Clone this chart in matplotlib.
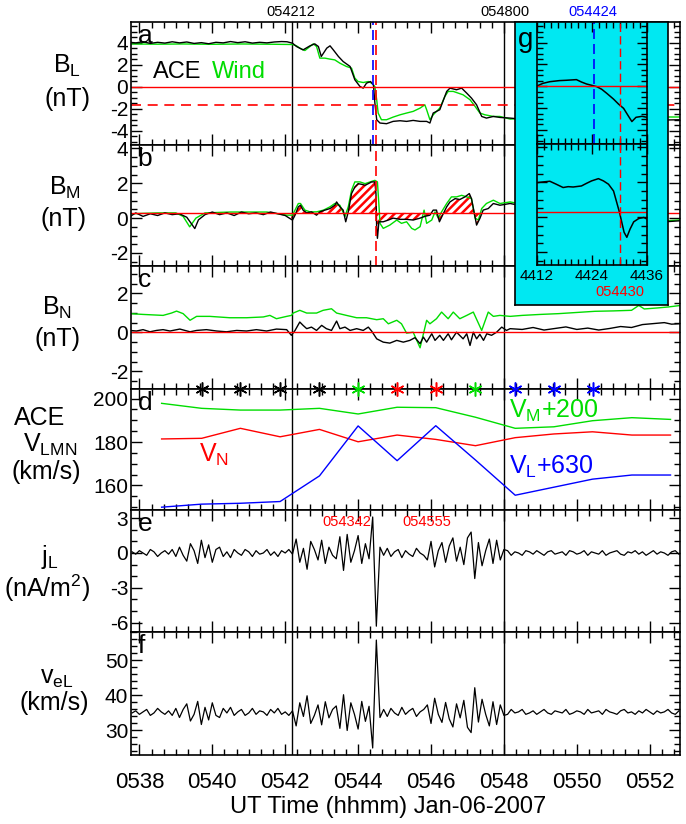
import numpy as np
import matplotlib
matplotlib.use("Agg")
import matplotlib.pyplot as plt
from matplotlib.ticker import MultipleLocator

plt.rcParams['font.family'] = ['Liberation Sans', 'DejaVu Sans']
plt.rcParams['axes.unicode_minus'] = False
plt.rcParams['hatch.linewidth'] = 1.8

GREEN = '#00dd00'
RED = '#ff0000'
BLUE = '#0000ff'
CYAN = '#00e8f2'

# times are minutes after 05:38 UT
time_ticks = [0, 2, 4, 6, 8, 10, 12, 14]
time_labels = ['0538', '0540', '0542', '0544', '0546', '0548', '0550', '0552']

# panel a: B_L (nT)
a_ace_t = [-0.25, -0.1, 0.1, 0.3, 0.5, 0.7, 0.9, 1.1, 1.3, 1.5, 1.7, 1.9, 2.1, 2.3, 2.5, 2.7, 2.9, 3.1, 3.3, 3.5,
           3.7, 3.9, 4.05, 4.2, 4.31, 4.49, 4.68, 4.81, 4.91, 4.99, 5.14, 5.23, 5.32, 5.46, 5.59, 5.78, 5.91, 6.05,
           6.14, 6.23, 6.34, 6.42, 6.46, 6.51, 6.60, 6.78, 6.96, 7.15, 7.33, 7.51, 7.70, 7.88, 7.97, 8.06, 8.24,
           8.43, 8.52, 8.70, 8.84, 8.98, 9.11, 9.25, 9.39, 9.52, 9.71, 9.89, 10.17, 10.5, 10.9, 11.3, 11.7, 12.1,
           12.5, 12.9, 13.3, 13.7, 14.1, 14.5, 14.85]
a_ace = [4.05, 4.0, 4.1, 3.95, 4.05, 3.98, 4.1, 4.0, 4.08, 3.95, 4.02, 3.92, 4.05, 4.0, 4.12, 4.02, 4.1, 3.98, 4.05,
         4.0, 4.08, 4.12, 4.1, 3.97, 3.67, 3.36, 3.73, 3.91, 3.67, 2.76, 3.52, 3.73, 3.36, 2.76, 2.30, 1.85, 0.64,
         0.03, -0.12, 0.33, 0.48, 0.18, -1.48, -3.0, -3.3, -3.36, -3.15, -3.09, -3.15, -3.06, -3.15, -3.15, -3.3,
         -2.39, -2.09, -0.42, -0.12, -0.27, -0.12, -0.58, -1.03, -1.64, -2.70, -2.85, -2.70, -2.79, -2.85, -2.95,
         -2.9, -3.0, -2.92, -3.02, -2.95, -3.05, -2.98, -3.0, -2.95, -3.02, -3.0]
a_wind_t = [-0.25, 0.5, 1.2, 2.0, 2.8, 3.5, 4.2, 4.31, 4.40, 4.54, 4.68, 4.77, 4.86, 4.95, 5.09, 5.23, 5.36, 5.50,
            5.68, 5.82, 5.91, 6.00, 6.14, 6.28, 6.37, 6.46, 6.51, 6.55, 6.64, 6.78, 6.96, 7.15, 7.33, 7.51, 7.70,
            7.83, 7.88, 7.97, 8.06, 8.24, 8.38, 8.47, 8.61, 8.75, 8.88, 9.07, 9.21, 9.34, 9.48, 9.71, 9.89, 10.17,
            11.0, 12.0, 13.0, 14.0, 14.85]
a_wind = [3.9, 3.88, 3.9, 3.87, 3.9, 3.88, 3.85, 3.73, 3.52, 3.30, 3.67, 3.91, 3.67, 2.61, 2.61, 2.52, 2.45, 2.15,
          1.85, 1.70, 0.79, 0.48, 0.39, 0.48, 0.33, 0.03, -1.18, -2.39, -3.0, -3.0, -2.76, -2.55, -2.39, -2.24,
          -1.94, -1.64, -2.09, -3.0, -2.55, -1.94, -0.88, -0.42, -0.42, -0.58, -0.73, -1.18, -1.79, -2.39, -2.55,
          -2.70, -2.70, -2.94, -2.8, -2.75, -2.8, -2.75, -2.75]
bl_ref = -1.7

# panel b: B_M (nT)
b_ace_t = [-0.25, -0.1, 0.1, 0.3, 0.5, 0.7, 0.9, 1.1, 1.3, 1.42, 1.52, 1.62, 1.8, 2.0, 2.2, 2.4, 2.6, 2.8, 3.0, 3.2,
           3.4, 3.6, 3.8, 4.0, 4.15, 4.20, 4.27, 4.36, 4.42, 4.49, 4.59, 4.72, 4.86, 4.95, 5.09, 5.23, 5.36, 5.41,
           5.50, 5.59, 5.66, 5.73, 5.82, 5.91, 6.00, 6.10, 6.19, 6.28, 6.37, 6.46, 6.49, 6.51, 6.53, 6.57, 6.69,
           6.83, 6.96, 7.15, 7.33, 7.51, 7.70, 7.83, 7.97, 8.06, 8.15, 8.23, 8.34, 8.43, 8.52, 8.66, 8.79, 8.93,
           9.05, 9.11, 9.18, 9.25, 9.34, 9.43, 9.57, 9.71, 9.89, 10.17, 10.5, 11.0, 11.5, 12.0, 12.5, 13.0, 13.5,
           14.0, 14.5, 14.85]
b_ace = [0.1, 0.3, 0.1, 0.25, 0.15, 0.3, 0.2, 0.25, 0.05, -0.3, -0.6, -0.1, 0.2, 0.35, 0.2, 0.3, 0.15, 0.35, 0.25,
         0.3, 0.2, 0.35, 0.25, 0.15, -0.05, -0.11, 0.17, 0.65, 0.74, 0.46, 0.30, 0.36, 0.17, 0.36, 0.46, 0.55, 0.74,
         0.93, 0.65, 0.46, -0.21, 0.36, 1.41, 1.79, 1.98, 1.94, 1.89, 1.98, 2.08, 2.08, 1.41, -0.68, -1.16, -0.21,
         -0.21, -0.11, 0.0, -0.07, -0.07, -0.11, 0.0, 0.1, 0.17, 0.46, 0.46, -0.21, 0.27, 0.65, 0.93, 1.12, 1.07,
         1.22, 1.41, 1.12, 0.36, -0.4, -0.02, 0.46, 0.55, 0.84, 0.74, 0.84, 0.7, 0.5, 0.4, 0.2, 0.1, 0.0, -0.1,
         -0.15, -0.2, -0.15]
b_wind_t = [-0.25, 0.5, 1.0, 1.2, 1.38, 1.55, 1.8, 2.5, 3.5, 4.04, 4.20, 4.36, 4.42, 4.54, 4.68, 4.86, 5.05, 5.23,
            5.36, 5.50, 5.64, 5.73, 5.82, 5.91, 6.05, 6.19, 6.33, 6.46, 6.53, 6.58, 6.60, 6.69, 6.87, 7.06, 7.19,
            7.33, 7.47, 7.56, 7.70, 7.81, 7.88, 8.02, 8.11, 8.20, 8.29, 8.43, 8.56, 8.70, 8.84, 8.98, 9.11, 9.21,
            9.30, 9.39, 9.52, 9.71, 9.89, 10.17, 10.5, 11.0, 12.0, 13.0, 14.0, 14.5, 14.85]
b_wind = [0.25, 0.3, 0.3, 0.1, -0.5, 0.0, 0.3, 0.35, 0.35, 0.17, 0.17, 0.84, 0.84, 0.46, 0.36, 0.36, 0.46, 0.65,
          0.84, 0.74, 0.1, 0.65, 1.6, 2.08, 2.08, 1.98, 2.08, 2.17, 2.08, 0.46, -0.3, -0.59, -0.4, -0.11, -0.3,
          -0.21, -0.59, -0.68, -0.49, 0.46, -0.3, -0.11, 0.36, 0.0, 0.36, 0.84, 1.22, 1.22, 1.31, 1.22, 1.12, 0.0,
          -0.11, 0.55, 0.84, 1.03, 0.84, 0.93, 0.8, 0.6, 0.3, 0.1, -0.1, -0.15, -0.1]
bm_ref = 0.3
hatch_start, hatch_end = 4.2, 9.36

# panel c: B_N (nT)
c_ace_t = [-0.26, -0.08, 0.10, 0.29, 0.47, 0.65, 0.84, 1.11, 1.39, 1.57, 1.84, 2.12, 2.39, 2.67, 2.94, 3.21, 3.49,
           3.76, 4.04, 4.17, 4.27, 4.40, 4.49, 4.59, 4.72, 4.86, 5.00, 5.13, 5.27, 5.41, 5.50, 5.64, 5.78, 5.96,
           6.14, 6.28, 6.37, 6.51, 6.69, 6.87, 7.06, 7.24, 7.42, 7.56, 7.70, 7.79, 7.88, 8.02, 8.11, 8.24, 8.34,
           8.47, 8.56, 8.70, 8.88, 8.98, 9.07, 9.16, 9.25, 9.34, 9.44, 9.53, 9.66, 9.80, 9.94, 10.07, 10.17, 10.5,
           10.8, 11.1, 11.4, 11.7, 12.0, 12.3, 12.6, 12.9, 13.2, 13.5, 13.8, 14.1, 14.4, 14.6, 14.85]
c_ace = [0.10, 0.07, 0.14, 0.03, 0.10, 0.14, 0.07, 0.17, 0.03, 0.10, 0.14, 0.07, 0.03, 0.10, 0.07, 0.14, 0.07,
         0.17, 0.14, -0.15, 0.10, 0.53, 0.36, 0.19, 0.27, 0.10, 0.36, 0.19, 0.10, 0.58, 0.19, 0.27, 0.10, 0.19,
         0.10, 0.27, 0.07, -0.33, -0.50, -0.55, -0.41, -0.50, -0.41, -0.27, -0.58, -0.24, -0.50, -0.07, -0.41,
         -0.15, -0.41, -0.07, -0.38, 0.01, -0.33, -0.07, -0.67, 0.01, -0.33, -0.10, -0.41, -0.07, -0.15, 0.01,
         0.27, 0.10, 0.19, 0.15, 0.25, 0.12, 0.20, 0.28, 0.15, 0.22, 0.12, 0.20, 0.30, 0.25, 0.40, 0.45, 0.50,
         0.42, 0.45]
c_wind_t = [-0.26, 0.10, 0.65, 0.88, 1.02, 1.20, 1.39, 1.57, 1.93, 2.48, 2.94, 3.40, 3.58, 3.76, 4.04, 4.17, 4.22,
            4.40, 4.59, 4.86, 5.04, 5.27, 5.41, 5.68, 5.96, 6.23, 6.51, 6.69, 6.83, 7.06, 7.19, 7.33, 7.51, 7.70,
            7.88, 7.97, 8.15, 8.29, 8.47, 8.61, 8.79, 8.98, 9.16, 9.39, 9.57, 9.71, 9.89, 10.17, 10.5, 11.0, 11.5,
            12.0, 12.5, 13.0, 13.5, 13.7, 13.85, 14.2, 14.5, 14.85]
c_wind = [0.96, 0.92, 0.87, 0.99, 1.09, 0.96, 0.62, 0.82, 0.82, 0.75, 0.75, 0.79, 0.87, 0.70, 0.82, 0.87, 0.99,
          1.13, 0.99, 0.99, 1.13, 1.21, 0.99, 0.87, 0.75, 0.75, 0.65, 0.70, 0.44, 0.62, 0.44, -0.04, 0.01, -0.79,
          0.62, 0.44, 0.70, 1.04, 0.70, 1.04, 0.70, 0.87, 1.04, 0.10, 1.04, 0.82, 0.87, 0.82, 0.87, 0.92, 0.96,
          1.02, 1.08, 1.10, 1.13, 1.38, 1.20, 1.25, 1.30, 1.38]

# panel d: ACE velocity (km/s), 64-s samples
d_t = [0.61, 1.71, 2.77, 3.86, 4.94, 6.00, 7.07, 8.13, 9.22, 10.31, 11.37, 12.43, 13.51, 14.57]
vm_200 = [197.8, 195.5, 194.7, 194.7, 195.5, 192.9, 196.0, 195.8, 191.4, 186.3, 187.0, 189.8, 191.2, 190.4]
vn = [181.4, 181.7, 186.3, 182.4, 185.8, 180.1, 183.2, 181.2, 178.3, 182.0, 183.7, 184.7, 183.2, 183.2]
vl_630 = [150.0, 151.4, 151.8, 152.6, 164.4, 187.4, 171.4, 187.5, 171.7, 155.5, 159.2, 162.9, 164.8, 164.8]
star_t = [1.71, 2.77, 3.86, 4.94, 6.00, 7.07, 8.13, 9.22, 10.31, 11.37, 12.43]
star_c = ['k', 'k', 'k', 'k', GREEN, RED, RED, GREEN, BLUE, BLUE, BLUE]

# panels e, f: 6-s samples starting at -0.2 min
e_start, e_step = -0.2, 0.1
jl = [0.1, -0.1, 0.2, 0.0, -0.2, 0.3, 0.1, -0.3, 0.0, 0.2,
      -0.1, 0.3, -0.3, 0.5, -0.2, -0.7, 0.8, 0.2, -0.9, 1.1,
      -0.4, 0.7, -0.8, 0.3, 0.5, -0.3, 0.1, -0.4, 0.3, 0.0,
      -0.2, 0.3, 0.1, -0.3, 0.2, -0.1, 0.0, 0.3, -0.2, 0.1,
      -0.3, 0.2, 0.0, 0.3, -0.1, 1.2, -0.8, 0.4, -1.4, 1.0,
      0.3, -0.6, 1.1, -0.9, 0.5, -0.2, -0.5, 1.4, -1.5, 1.6,
      -0.8, 0.2, 1.5, -0.9, 0.8, -0.5, 3.1, -6.3, 0.5, -0.2,
      0.4, -0.3, 0.1, 0.3, -0.4, 0.2, -0.1, -0.3, 0.4, 0.0,
      -0.2, -0.6, 1.0, -1.2, 0.2, 0.9, -0.8, 0.6, 1.3, -0.7,
      0.5, -1.0, 1.3, 1.8, -2.2, 0.9, -1.1, 0.2, 1.2, -0.9,
      1.1, -0.6, 0.3, 0.2, -0.2, 0.1, 0.0, -0.2, 0.2, 0.1,
      -0.1, 0.2, 0.0, -0.2, 0.1, 0.2, -0.1, 0.0, 0.1, -0.2,
      0.2, 0.1, -0.1, 0.0, 0.2, -0.2, 0.1, 0.0, -0.1, 0.2,
      -0.2, 0.0, 0.1, 0.2, -0.1, -0.2, 0.1, 0.0, 0.2, -0.1,
      0.1, -0.2, 0.0, 0.2, -0.1, 0.1, 0.0, -0.2, 0.1, 0.2,
      -0.1]
vel = [34.9, 35.5, 34.5, 35.2, 35.9, 34.2, 34.9, 36.2, 35.2, 34.5,
       35.5, 34.2, 36.2, 33.6, 35.9, 37.5, 32.6, 34.5, 38.2, 31.6,
       36.5, 32.9, 37.8, 34.2, 33.6, 36.2, 34.9, 36.5, 34.2, 35.2,
       35.9, 34.2, 34.9, 36.2, 34.5, 35.5, 35.2, 34.2, 35.9, 34.9,
       36.2, 34.5, 35.2, 34.2, 35.5, 31.2, 37.8, 33.9, 39.8, 31.9,
       34.2, 37.2, 31.5, 38.1, 33.5, 35.9, 36.9, 30.5, 40.1, 29.9,
       37.8, 34.5, 30.3, 38.2, 32.5, 36.8, 24.9, 55.7, 33.6, 35.9,
       33.9, 36.2, 34.9, 34.2, 36.5, 34.5, 35.5, 36.2, 33.9, 35.2,
       35.9, 37.2, 31.9, 39.1, 34.5, 32.2, 37.9, 33.2, 30.9, 37.5,
       33.5, 38.5, 30.8, 29.3, 42.1, 32.3, 38.8, 34.5, 31.2, 38.1,
       31.6, 37.2, 34.2, 34.5, 35.9, 34.9, 35.2, 35.9, 34.5, 34.9,
       35.5, 34.5, 35.2, 35.9, 34.9, 34.5, 35.5, 35.2, 34.9, 35.9,
       34.5, 34.9, 35.5, 35.2, 34.5, 35.9, 34.9, 35.2, 35.5, 34.5,
       35.9, 35.2, 34.9, 34.5, 35.5, 35.9, 34.9, 35.2, 34.5, 35.5,
       34.9, 35.9, 35.2, 34.5, 35.5, 34.9, 35.2, 35.9, 34.9, 34.5,
       35.5]

# inset g: seconds after 05:44
g_top_t = [12.0, 13.3, 14.8, 16.9, 18.4, 20.6, 21.7, 22.8, 23.9, 25.0, 26.1, 27.2, 28.7, 29.8, 30.9, 31.8, 32.7,
           33.6, 34.9, 36.0]
g_top = [0.03, 0.27, 0.42, 0.52, 0.55, 0.61, 0.39, 0.21, 0.09, -0.03, -0.27, -0.64, -1.18, -1.64, -2.03, -2.64,
         -3.24, -2.85, -2.76, -2.85]
g_bot_t = [12.0, 13.3, 14.8, 16.2, 17.7, 18.8, 19.9, 21.7, 22.8, 23.9, 25.4, 26.5, 27.6, 28.7, 29.4, 30.0, 30.5,
           31.0, 31.6, 32.3, 33.1, 34.2, 35.3, 36.0]
g_bot = [1.98, 2.02, 2.06, 1.89, 1.70, 1.75, 1.73, 1.79, 1.94, 2.08, 2.21, 2.08, 1.89, 1.50, 0.84, 0.27, -0.30,
         -0.87, -1.16, -0.69, -0.27, -0.08, -0.02, -0.11]

W, H = 686.0, 824.0


def fx(px):
    return px / W


def fy(py):
    return 1 - py / H


fig = plt.figure(figsize=(6.86, 8.24), dpi=100)

left, right = 131, 680
edges = [22, 145, 266, 389, 510, 632, 755]
ylims = [(-5.3, 5.9), (-2.75, 4.2), (-2.9, 3.4), (148.7, 204.4), (-6.8, 3.7), (22.9, 58)]
ymajor = [2, 2, 2, 20, 3, 10]
yminor = [0.5, 0.5, 0.5, 5, 1, 2]

axes = []
for i in range(6):
    ax = fig.add_axes([fx(left), fy(edges[i + 1]), fx(right - left), (edges[i + 1] - edges[i]) / H])
    ax.set_xlim(-0.23, 14.83)
    ax.set_ylim(*ylims[i])
    ax.set_xticks(time_ticks)
    ax.xaxis.set_minor_locator(MultipleLocator(1 / 3))
    ax.yaxis.set_major_locator(MultipleLocator(ymajor[i]))
    ax.yaxis.set_minor_locator(MultipleLocator(yminor[i]))
    ax.tick_params(which='both', direction='in', top=True, right=True, width=1, labelsize=15, pad=2)
    ax.tick_params(which='major', length=8)
    ax.tick_params(which='minor', length=4)
    ax.tick_params(axis='x', labelbottom=False)
    for s in ax.spines.values():
        s.set_linewidth(1.2)
    ax.axvline(4.2, color='k', lw=1)
    ax.axvline(10.0, color='k', lw=1)
    axes.append(ax)

ax_a, ax_b, ax_c, ax_d, ax_e, ax_f = axes
ax_e.set_yticks([-6, -3, 0, 3])
ax_f.set_yticks([30, 40, 50])
ax_d.set_yticks([160, 180, 200])

lw = 1.0
# a
ax_a.plot(a_wind_t, a_wind, color=GREEN, lw=lw)
ax_a.plot(a_ace_t, a_ace, color='k', lw=lw)
ax_a.axhline(0, color=RED, lw=1)
ax_a.axhline(bl_ref, color=RED, lw=1.2, dashes=(6, 4))
ax_a.axvline(6.4, color=BLUE, lw=1.2, dashes=(6, 3))
ax_a.axvline(6.5, color=RED, lw=1.2, dashes=(6, 3))

# b
tb = np.array(b_ace_t)
bb = np.array(b_ace)
ax_b.fill_between(tb, bb, bm_ref, where=(tb >= hatch_start) & (tb <= hatch_end), interpolate=True,
                  facecolor='none', edgecolor=RED, hatch='////', linewidth=0)
ax_b.plot(b_wind_t, b_wind, color=GREEN, lw=lw)
ax_b.plot(tb, bb, color='k', lw=lw)
ax_b.axhline(bm_ref, color=RED, lw=1)
ax_b.axvline(6.5, color=RED, lw=1.2, dashes=(6, 3))

# c
ax_c.plot(c_wind_t, c_wind, color=GREEN, lw=lw)
ax_c.plot(c_ace_t, c_ace, color='k', lw=lw)
ax_c.axhline(0, color=RED, lw=1)

# d
ax_d.plot(d_t, vm_200, color=GREEN, lw=lw)
ax_d.plot(d_t, vn, color=RED, lw=lw)
ax_d.plot(d_t, vl_630, color=BLUE, lw=lw)
for t, c in zip(star_t, star_c):
    ax_d.plot(t, 1.0, marker=(6, 2, 0), ms=10, mew=1.1, color=c, clip_on=False, zorder=6,
              transform=ax_d.get_xaxis_transform())

# e, f
te = e_start + e_step * np.arange(len(jl))
ax_e.plot(te, jl, color='k', lw=0.9)
ax_f.plot(te, vel, color='k', lw=0.9)
ax_f.set_xticks(time_ticks, labels=time_labels)
ax_f.tick_params(axis='x', labelbottom=True, labelsize=16, pad=12)

# inset g
box = fig.add_axes([fx(515), fy(305), fx(668 - 515), (305 - 22) / H])
box.set_facecolor(CYAN)
box.set_xticks([])
box.set_yticks([])
for s in box.spines.values():
    s.set_linewidth(1.2)

g1 = fig.add_axes([fx(537), fy(144), fx(110), 122 / H])
g2 = fig.add_axes([fx(537), fy(265), fx(110), 121 / H])
for g, yl in ((g1, ylims[0]), (g2, ylims[1])):
    g.set_facecolor(CYAN)
    g.set_xlim(12, 36)
    g.set_ylim(*yl)
    g.set_xticks([12, 24, 36])
    g.xaxis.set_minor_locator(MultipleLocator(1.5))
    g.yaxis.set_major_locator(MultipleLocator(2))
    g.yaxis.set_minor_locator(MultipleLocator(0.5))
    g.tick_params(which='both', direction='in', top=True, right=True, width=1,
                  labelleft=False, labelbottom=False)
    g.tick_params(which='major', length=7)
    g.tick_params(which='minor', length=4)
    for s in g.spines.values():
        s.set_linewidth(1.2)
g1.plot(g_top_t, g_top, color='k', lw=1.1)
g1.axhline(0, color=RED, lw=1)
g1.axvline(24.5, color=BLUE, lw=1.2, dashes=(6, 3))
g1.axvline(30, color=RED, lw=1, dashes=(6, 3))
g2.plot(g_bot_t, g_bot, color='k', lw=1.1)
g2.axhline(bm_ref, color=RED, lw=1)
g2.axvline(30, color=RED, lw=1, dashes=(6, 3))
g2.set_xticks([12, 24, 36], labels=['4412', '4424', '4436'])
g2.tick_params(axis='x', labelbottom=True, labelsize=11, pad=3)
fig.text(fx(526), fy(40), 'g', fontsize=20, ha='center', va='center')
fig.text(fx(620), fy(292), '054430', fontsize=10.5, color=RED, ha='center', va='center')

# time markers on top
fig.text(fx(291), fy(12), '054212', fontsize=10.5, ha='center', va='center')
fig.text(fx(505), fy(12), '054800', fontsize=10.5, ha='center', va='center')
fig.text(fx(593), fy(12), '054424', fontsize=10.5, color=BLUE, ha='center', va='center')

# panel letters
for ax, letter in zip(axes, 'abcdef'):
    ax.text(0.012, 0.985, letter, transform=ax.transAxes, fontsize=19, va='top', ha='left')

# in-panel texts
fig.text(fx(153), fy(78), 'ACE', fontsize=17, va='baseline')
fig.text(fx(212), fy(78), 'Wind', fontsize=17, color=GREEN, va='baseline')
fig.text(fx(199), fy(462), r'$\mathregular{V_N}$', fontsize=18, color=RED, va='baseline')
fig.text(fx(509), fy(418), r'$\mathregular{V_M}$+200', fontsize=18, color=GREEN, va='baseline')
fig.text(fx(509), fy(474), r'$\mathregular{V_L}$+630', fontsize=18, color=BLUE, va='baseline')
fig.text(fx(347), fy(522), '054342', fontsize=10.5, color=RED, ha='center', va='center')
fig.text(fx(427), fy(522), '054555', fontsize=10.5, color=RED, ha='center', va='center')

# y labels
ys = 18
fig.text(fx(67), fy(66), r'$\mathregular{B_L}$', fontsize=ys, ha='center', va='center')
fig.text(fx(67), fy(99), '(nT)', fontsize=ys, ha='center', va='center')
fig.text(fx(65), fy(188), r'$\mathregular{B_M}$', fontsize=ys, ha='center', va='center')
fig.text(fx(63), fy(219), '(nT)', fontsize=ys, ha='center', va='center')
fig.text(fx(57), fy(308), r'$\mathregular{B_N}$', fontsize=ys, ha='center', va='center')
fig.text(fx(57), fy(339), '(nT)', fontsize=ys, ha='center', va='center')
fig.text(fx(40), fy(418), 'ACE', fontsize=ys, ha='center', va='center')
fig.text(fx(50), fy(445), r'$\mathregular{V_{LMN}}$', fontsize=ys, ha='center', va='center')
fig.text(fx(46), fy(472), '(km/s)', fontsize=ys, ha='center', va='center')
fig.text(fx(50), fy(557), r'$\mathregular{j_L}$', fontsize=ys, ha='center', va='center')
fig.text(fx(47), fy(588), r'(nA/m$\mathregular{^2}$)', fontsize=ys, ha='center', va='center')
fig.text(fx(57), fy(678), r'$\mathregular{v_{eL}}$', fontsize=ys, ha='center', va='center')
fig.text(fx(54), fy(703), '(km/s)', fontsize=ys, ha='center', va='center')

fig.text(fx(388), fy(807), 'UT Time (hhmm) Jan-06-2007', fontsize=17, ha='center', va='center')

fig.savefig('out.png', dpi=100)
